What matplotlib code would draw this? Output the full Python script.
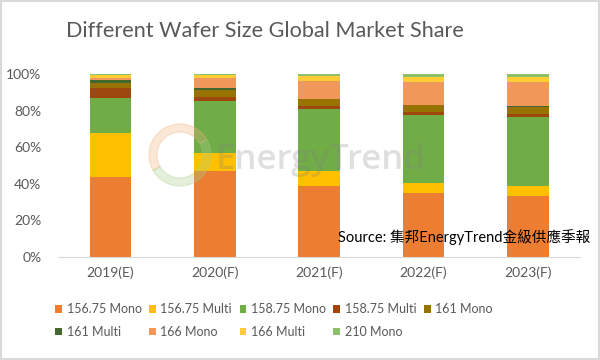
import numpy as np
import matplotlib.pyplot as plt
from matplotlib.patches import Rectangle, Wedge

years = ['2019(E)', '2020(F)', '2021(F)', '2022(F)', '2023(F)']
names = ['156.75 Mono', '156.75 Multi', '158.75 Mono', '158.75 Multi', '161 Mono',
         '161 Multi', '166 Mono', '166 Multi', '210 Mono']
colors = ['#ED7D31', '#FFC000', '#70AD47', '#9E480E', '#997300',
          '#43682B', '#F1975A', '#FFCD33', '#8CC168']

# shares in %, one list per wafer type (2019..2023)
m15675 = [44.0, 46.9, 38.8, 35.1, 33.3]
p15675 = [24.0, 10.0, 8.5, 5.5, 5.5]
m15875 = [19.0, 28.6, 33.7, 37.1, 38.0]
p15875 = [5.5, 2.2, 1.6, 1.8, 1.3]
m161 = [2.5, 3.6, 3.8, 3.7, 4.1]
p161 = [2.0, 1.1, 0.2, 0.2, 0.2]
m166 = [1.0, 5.3, 9.8, 12.4, 13.4]
p166 = [1.5, 1.8, 2.5, 2.4, 2.8]
m210 = [0.5, 0.5, 1.1, 1.8, 1.4]
series = [m15675, p15675, m15875, p15875, m161, p161, m166, p166, m210]

fig = plt.figure(figsize=(6, 3.6), dpi=100)
ax = fig.add_axes([0.097, 0.286, 0.870, 0.508])

# faint watermark logo (inch coords so the ring stays round)
tr = fig.dpi_scale_trans
fig.patches.append(Wedge((1.80, 2.05), 0.31, 30, 210, width=0.08,
                         transform=tr, color='#F3B27A', alpha=0.3))
fig.patches.append(Wedge((1.80, 2.05), 0.31, 210, 390, width=0.08,
                         transform=tr, color='#A9CF8C', alpha=0.3))
fig.text(0.36, 0.555, 'EnergyTrend', fontsize=25, color='#808080', alpha=0.25,
         family='Open Sans', fontweight='semibold', va='center')

x = np.arange(len(years))
bottom = np.zeros(len(years))
bars = []
for vals, name, c in zip(series, names, colors):
    v = np.array(vals) / 100
    b = ax.bar(x, v, 0.4, bottom=bottom, color=c, label=name, zorder=2)
    bars.append(b)
    bottom += v

ax.set_xlim(-0.5, len(years) - 0.5)
ax.set_ylim(0, 1)
ax.set_yticks(np.arange(0, 1.01, 0.2))
ax.set_yticklabels(['%d%%' % (t * 100) for t in np.arange(0, 1.01, 0.2)])
ax.set_xticks(x)
ax.set_xticklabels(years)
for s in ['top', 'right', 'left']:
    ax.spines[s].set_visible(False)
ax.spines['bottom'].set_color('#D9D9D9')
ax.tick_params(length=0, colors='#595959', labelsize=10)
ax.tick_params(axis='x', pad=7)
ax.tick_params(axis='y', pad=12)
ax.patch.set_alpha(0)
for lab in ax.get_xticklabels() + ax.get_yticklabels():
    lab.set_family('Lato')

fig.text(0.442, 0.915, 'Different Wafer Size Global Market Share', ha='center',
         va='center', fontsize=15.6, color='#595959', family='Lato')
fig.text(0.563, 0.342, 'Source: 集邦EnergyTrend金級供應季報', fontsize=10.5,
         color='#000000', family=['Lato', 'Noto Sans CJK TC'], va='center')

order = [0, 5, 1, 6, 2, 7, 3, 8, 4]
leg = fig.legend([bars[i] for i in order], [names[i] for i in order],
                 loc='upper left', bbox_to_anchor=(0.082, 0.175), ncol=5, frameon=False,
                 handlelength=0.55, handleheight=0.55, handletextpad=0.35,
                 columnspacing=0.6, labelspacing=0.85, labelcolor='#595959',
                 borderpad=0, prop={'family': 'Lato', 'size': 9})

fig.patches.append(Rectangle((0.002, 0.003), 0.996, 0.994, transform=fig.transFigure,
                             fill=False, edgecolor='#D9D9D9', linewidth=1.5))

fig.savefig('out.png', dpi=100)
